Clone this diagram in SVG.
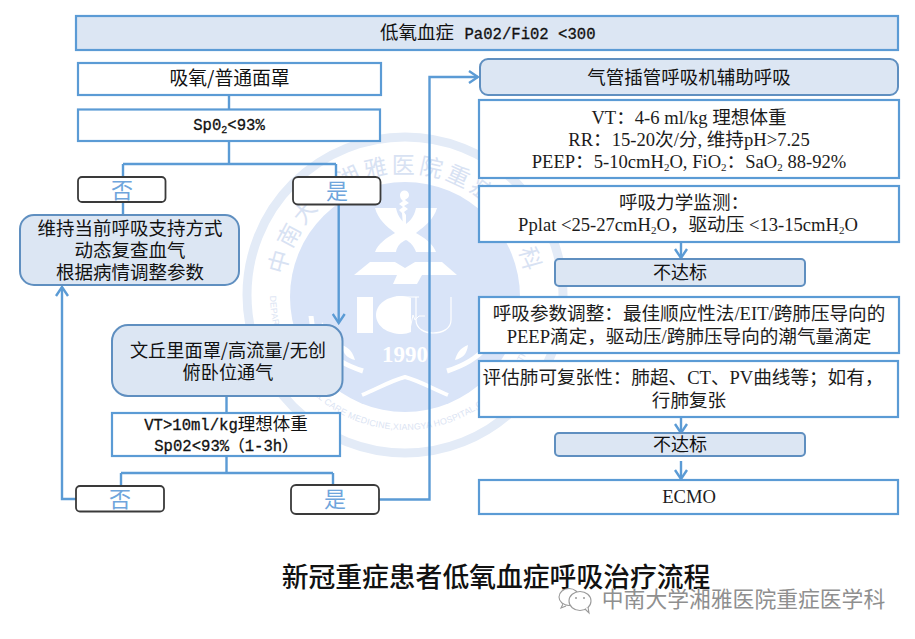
<svg xmlns="http://www.w3.org/2000/svg" xmlns:xlink="http://www.w3.org/1999/xlink" width="915" height="639" viewBox="0 0 915 639">
<style>
text{font-family:"Liberation Serif","Noto Sans CJK SC",serif;fill:#1c1c1c;text-anchor:middle;font-size:18.600px}
.sm{font-family:"Liberation Mono","Noto Sans CJK SC",monospace;font-size:15.600px;fill:#111;stroke:#111;stroke-width:.3px}
.cn{font-family:"Noto Sans CJK SC","Liberation Serif",sans-serif;font-weight:400;fill:#111}
.yn{font-family:"Noto Sans CJK SC",sans-serif;fill:#6fa5dc;font-size:22px}
.w{fill:#fff;stroke:#5b9bd5;stroke-width:2.2}
.b{fill:#dce6f3;stroke:#5f8fc0;stroke-width:2}
.t{fill:#dce6f3;stroke:#5b9bd5;stroke-width:2.2}
.k{fill:#fff;stroke:#3a3a3a;stroke-width:1.8}
.c{fill:none;stroke:#5b9bd5;stroke-width:2.4}
.wm{font-family:"Noto Sans CJK SC",sans-serif;fill:#d8e2f3;font-size:23px;letter-spacing:3.400px}
.we{font-family:"Liberation Sans",sans-serif;fill:#dbe4f3;font-size:8.800px;letter-spacing:.2px}
.lg{fill:#fff}
</style>
<defs>
<path id="ta" d="M283 295A122 122 0 0 1 527 295"/>
<path id="ba" d="M271.500 275A135 135 0 1 0 538.500 275"/>
<marker id="ah" viewBox="0 0 14 14" refX="12" refY="7" markerWidth="14" markerHeight="14" markerUnits="userSpaceOnUse" orient="auto"><path d="M3 1L12 7L3 13" fill="none" stroke="#5b9bd5" stroke-width="2.4"/></marker>
</defs>
<rect width="915" height="639" fill="#fff"/>
<g id="watermark">
<circle cx="405" cy="295" r="158" fill="none" stroke="#e3ebf7" stroke-width="9"/>
<circle cx="405" cy="297" r="115" fill="#d9e4f8"/>
<text class="wm"><textPath href="#ta" xlink:href="#ta" startOffset="50%">中南大学湘雅医院重症医学科</textPath></text>
<text class="we"><textPath href="#ba" xlink:href="#ba" startOffset="50%">DEPARTMENT OF CRITICAL CARE MEDICINE,XIANGYA HOSPITAL,CENTRAL SOUTH UNIVERSITY</textPath></text>
<path class="lg" d="M400 195a4.500 4.500 0 0 1 9 0c0 3-3 4-4 5l4 3-5 3 4 3-4 3 2 3v11h-3l-1-13 -3-3 4-3-4-3 4-3c-2-2-3-3-3-6z"/>
<path class="lg" d="M375 208h21c2 9 6 13 10 16 4-3 8-7 10-16h21c-3 11-12 18-21 25 9 5 17 11 20 19h-20c-2-6-6-10-10-12-5 2-9 6-10 12h-21c3-8 11-14 20-19-9-7-17-14-20-25z"/>
<path class="lg" d="M354 275L370 262H395L405 268L415 262H442L457 275H422L417 284H393L397 275Z"/>
<rect class="lg" x="357" y="297" width="16" height="36"/>
<path class="lg" d="M411 298c-3-1-6-2-9-2-15 0-26 8-26 19s11 19 26 19c3 0 6-1 9-2z"/>
<path d="M394 316h6l2-5 2 9 3-17 3 26 3-14 2 5 4-4h6" fill="none" stroke="#fff" stroke-width="1"/>
<path d="M396 297h23M416 297v23c0 9 9 13 17 13 9 0 18-4 18-13v-23" fill="none" stroke="#fff" stroke-width="1.200"/>
<text x="405" y="362" style="font-family:'Liberation Serif',serif;font-weight:700;font-size:23px;fill:#fff">1990</text>
<path d="M311 316c1 20 14 43 52 55M499 316c-1 20-14 43-52 55" fill="none" stroke="#fff" stroke-width="5"/>
<path d="M322 322c6 8 8 15 6 24-6-6-8-14-6-24zM342 345c8 3 11 8 13 15-8-2-12-6-13-15zM488 322c-6 8-8 15-6 24 6-6 8-14 6-24zM468 345c-8 3-11 8-13 15 8-2 12-6 13-15z" fill="#fff"/>
<path d="M362 395c15-6 28-14 43-18 15 4 28 12 43 18" fill="none" stroke="#fff" stroke-width="4"/>
</g>
<g id="connectors">
<path class="c" d="M229 95V110M229 141V164M123 164H336M123 164V177M336 164V177M123 202V215"/>
<path class="c" d="M338.700 204V323" marker-end="url(#ah)"/>
<path class="c" d="M226.500 396V413M226.500 456V473M121 473H333M121 473V486M333 473V485"/>
<path class="c" d="M76 499H62V287" marker-end="url(#ah)"/>
<path class="c" d="M379 499.500H429.500V77H478" marker-end="url(#ah)"/>
<path class="c" d="M681 242V258" marker-end="url(#ah)"/>
<path class="c" d="M681 417V433" marker-end="url(#ah)"/>
<path class="c" d="M681 461V479" marker-end="url(#ah)"/>
</g>
<g id="n-top"><rect class="t" x="76" y="16" width="822" height="34"/>
<text class="cn" x="417" y="39" style="font-size:18.500px">低氧血症</text><text class="sm" x="530" y="39">Pa02/Fi02 &lt;300</text></g>
<g id="n-mask"><rect class="w" x="78" y="63" width="303" height="32"/><text class="cn" x="229.500" y="85" style="font-size:18.800px">吸氧/普通面罩</text></g>
<g id="n-spo2"><rect class="w" x="78" y="109.500" width="302" height="31.500"/><text class="sm" x="229" y="130">Sp0<tspan font-size="10" dy="3">2</tspan><tspan dy="-3">&lt;93%</tspan></text></g>
<g id="n-no1"><rect class="k" x="78" y="177" width="87.500" height="25" rx="4"/><text class="yn" x="122" y="198">否</text></g>
<g id="n-yes1"><rect class="k" x="293" y="177" width="87.500" height="27.500" rx="5"/><text class="yn" x="337" y="199">是</text></g>
<g id="n-keep"><rect class="b" x="20" y="215" width="219" height="70" rx="14"/>
<text class="cn" style="font-size:18.500px" x="130" y="235">维持当前呼吸支持方式</text>
<text class="cn" style="font-size:18.500px" x="130" y="257">动态复查血气</text>
<text class="cn" style="font-size:18.500px" x="130" y="279">根据病情调整参数</text></g>
<g id="n-venturi"><rect class="b" x="112" y="325" width="230.500" height="71" rx="16"/>
<text class="cn" style="font-size:18.200px" x="228" y="356.500">文丘里面罩/高流量/无创</text>
<text class="cn" style="font-size:18.200px" x="228" y="378.500">俯卧位通气</text></g>
<g id="n-vt"><rect class="w" x="112" y="413" width="228" height="43"/>
<text class="sm" x="226" y="430">VT&gt;10ml/kg<tspan class="cn" style="font-size:17.500px;stroke:none">理想体重</tspan></text>
<text class="sm" x="226" y="451">Sp02&lt;93%（1-3h）</text></g>
<g id="n-no2"><rect class="k" x="76" y="486" width="88" height="25.500" rx="4"/><text class="yn" x="120" y="507">否</text></g>
<g id="n-yes2"><rect class="k" x="291" y="485" width="88" height="29" rx="5"/><text class="yn" x="335" y="507">是</text></g>
<g id="n-intub"><rect class="b" x="480" y="59" width="418" height="36" rx="8"/><text class="cn" x="689" y="84" style="font-size:18.500px">气管插管呼吸机辅助呼吸</text></g>
<g id="n-settings"><rect class="w" x="479" y="100" width="420" height="78"/>
<text x="689" y="124">VT：4-6 ml/kg 理想体重</text>
<text x="689" y="146">RR：15-20次/分, 维持pH&gt;7.25</text>
<text x="689" y="168">PEEP：5-10cmH<tspan font-size="11" dy="3">2</tspan><tspan dy="-3">O, FiO</tspan><tspan font-size="11" dy="3">2</tspan><tspan dy="-3">：SaO</tspan><tspan font-size="11" dy="3">2</tspan><tspan dy="-3"> 88-92%</tspan></text></g>
<g id="n-monitor"><rect class="w" x="479" y="186" width="420" height="56"/>
<text x="684" y="209">呼吸力学监测：</text>
<text x="688" y="231">Pplat &lt;25-27cmH<tspan font-size="11" dy="3">2</tspan><tspan dy="-3">O，驱动压 &lt;13-15cmH</tspan><tspan font-size="11" dy="3">2</tspan><tspan dy="-3">O</tspan></text></g>
<g id="n-fail1"><rect class="b" x="555" y="259" width="250" height="27" rx="4"/><text class="cn" x="680" y="279" style="font-size:18px">不达标</text></g>
<g id="n-adjust"><rect class="w" x="479" y="297" width="420" height="56"/>
<text x="689" y="320">呼吸参数调整：最佳顺应性法/EIT/跨肺压导向的</text>
<text x="689" y="343">PEEP滴定，驱动压/跨肺压导向的潮气量滴定</text></g>
<g id="n-assess"><rect class="w" x="479" y="361" width="419" height="56"/>
<text x="683" y="384">评估肺可复张性：肺超、CT、PV曲线等；如有，</text>
<text x="689" y="407">行肺复张</text></g>
<g id="n-fail2"><rect class="b" x="555" y="433" width="250" height="23" rx="4"/><text class="cn" x="680" y="451" style="font-size:18px">不达标</text></g>
<g id="n-ecmo"><rect class="w" x="479" y="480" width="419" height="34"/><text x="689" y="503">ECMO</text></g>
<text id="title" class="cn" x="496" y="587" style="font-size:26.800px;font-weight:500">新冠重症患者低氧血症呼吸治疗流程</text>
<g id="credit">
<ellipse cx="569" cy="597" rx="10" ry="8.500" fill="#fff" stroke="#9a9a9a" stroke-width="1.100"/>
<path d="M563 604l-2 4 5-2" fill="#fff" stroke="#9a9a9a" stroke-width="1.100"/>
<ellipse cx="580" cy="601" rx="11" ry="9.500" fill="#fff" stroke="#9a9a9a" stroke-width="1.100"/>
<path d="M585 609l4 4-1-6" fill="#fff" stroke="#9a9a9a" stroke-width="1.100"/>
<circle cx="576" cy="598" r="1" fill="#9a9a9a"/><circle cx="584" cy="598" r="1" fill="#9a9a9a"/>
<text x="743.500" y="607" style="font-family:'Noto Sans CJK SC',sans-serif;font-size:21.800px;fill:#8f8f8f;stroke:#fff;stroke-width:.6px;paint-order:stroke">中南大学湘雅医院重症医学科</text>
</g>
</svg>
